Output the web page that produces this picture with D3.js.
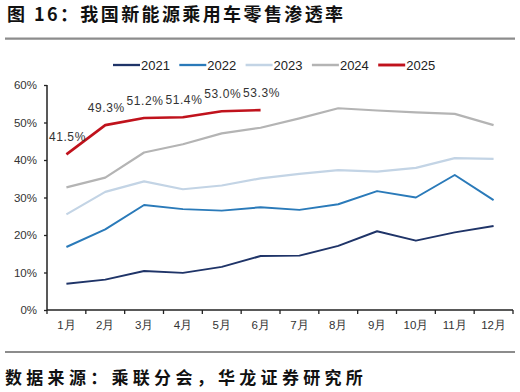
<!DOCTYPE html>
<html>
<head>
<meta charset="utf-8">
<script src="https://cdn.jsdelivr.net/npm/d3@7"></script>
<style>
  body { margin: 0; background: #fff; }
  svg { display: block; }
</style>
</head>
<body>
<div class="chart"></div>
<script>
const width = 520, height = 392;

// data
const months = ["1月","2月","3月","4月","5月","6月","7月","8月","9月","10月","11月","12月"];
const years = ["2021","2022","2023","2024","2025"];
const rate2021 = [7.0, 8.1, 10.4, 9.9, 11.5, 14.4, 14.5, 17.1, 21.0, 18.5, 20.7, 22.4];
const rate2022 = [16.8, 21.5, 28.0, 26.9, 26.5, 27.4, 26.7, 28.2, 31.7, 30.0, 36.0, 29.3];
const rate2023 = [25.5, 31.5, 34.3, 32.2, 33.2, 35.1, 36.3, 37.3, 36.9, 37.9, 40.5, 40.3];
const rate2024 = [32.7, 35.3, 42.0, 44.2, 47.1, 48.6, 51.1, 53.8, 53.2, 52.7, 52.3, 49.3];
const rate2025 = [41.5, 49.3, 51.2, 51.4, 53.0, 53.3];
const yTicks = [0, 10, 20, 30, 40, 50, 60];

const colors = ["#1f3468", "#2a7ab9", "#c3d4e5", "#b4b4b4", "#c0121c"];
const widths = [2, 2, 2.2, 2.2, 2.6];
const series = [rate2021, rate2022, rate2023, rate2024, rate2025];

const svg = d3.select(".chart")
    .append("svg")
    .attr("width", width)
    .attr("height", height);

const plotL = 47, plotR = 513, plotT = 85, plotB = 310;

const x = d3.scaleBand()
    .domain(months)
    .range([plotL, plotR]);

const y = d3.scaleLinear()
    .domain([0, 60])
    .range([plotB, plotT]);

// title + rules
svg.append("text")
    .attr("x", 7).attr("y", 21)
    .attr("font-family", "Noto Sans CJK SC")
    .attr("font-weight", "bold")
    .attr("font-size", 18)
    .attr("letter-spacing", 2.4)
    .attr("fill", "#111")
    .text("图 16：我国新能源乘用车零售渗透率");

svg.append("line")
    .attr("x1", 5).attr("x2", 515).attr("y1", 38.7).attr("y2", 38.7)
    .attr("stroke", "#8c8c8c").attr("stroke-width", 2.2);

svg.append("line")
    .attr("x1", 5).attr("x2", 515).attr("y1", 352).attr("y2", 352)
    .attr("stroke", "#8c8c8c").attr("stroke-width", 2.2);

svg.append("text")
    .attr("x", 5).attr("y", 384)
    .attr("font-family", "Noto Sans CJK SC")
    .attr("font-weight", "bold")
    .attr("font-size", 17)
    .attr("letter-spacing", 4.3)
    .attr("fill", "#111")
    .text("数据来源：乘联分会，华龙证券研究所");

// axes
const yAxis = svg.append("g")
    .attr("transform", `translate(${plotL},0)`)
    .call(d3.axisLeft(y).tickValues(yTicks).tickSize(3).tickPadding(7).tickFormat(d => d + "%"));

const xAxis = svg.append("g")
    .attr("transform", `translate(0,${plotB})`)
    .call(d3.axisBottom(x).tickSize(0).tickPadding(11));

// band boundary ticks
const bounds = months.map(m => x(m)).concat([plotR]);
xAxis.selectAll(".bound")
    .data(bounds)
    .join("line")
    .attr("class", "bound")
    .attr("x1", d => d).attr("x2", d => d)
    .attr("y1", 0).attr("y2", 4)
    .attr("stroke", "#222").attr("stroke-width", 1.3);

[yAxis, xAxis].forEach(g => {
    g.select(".domain").attr("stroke", "#222").attr("stroke-width", 1.5);
    g.selectAll(".tick line").attr("stroke", "#222").attr("stroke-width", 1.3);
    g.selectAll("text")
        .attr("font-family", "Liberation Sans, Arial, sans-serif")
        .attr("font-size", 11.5)
        .attr("fill", "#333");
});
xAxis.select(".domain").attr("d", `M${plotL},0H${plotR}`);
yAxis.select(".domain").attr("d", `M0,${plotT}V${plotB}`);

// lines
const line = d3.line()
    .x((d, i) => x(months[i]) + x.bandwidth() / 2)
    .y(d => y(d));

svg.selectAll(".series")
    .data(series)
    .join("path")
    .attr("class", "series")
    .attr("d", line)
    .attr("fill", "none")
    .attr("stroke", (d, i) => colors[i])
    .attr("stroke-width", (d, i) => widths[i])
    .attr("stroke-linejoin", "round");

// labels on 2025
svg.selectAll(".lbl")
    .data(rate2025)
    .join("text")
    .attr("class", "lbl")
    .attr("x", (d, i) => x(months[i]) + x.bandwidth() / 2 + 1)
    .attr("y", d => y(d) - 13)
    .attr("text-anchor", "middle")
    .attr("font-family", "Liberation Sans, Arial, sans-serif")
    .attr("font-size", 12)
    .attr("letter-spacing", 0.6)
    .attr("fill", "#333")
    .text(d => d.toFixed(1) + "%");

// legend
const legend = svg.selectAll(".leg")
    .data(years)
    .join("g")
    .attr("class", "leg")
    .attr("transform", (d, i) => `translate(${113 + i * 66.3},65)`);

legend.append("line")
    .attr("x1", 0).attr("x2", 27)
    .attr("stroke", (d, i) => colors[i])
    .attr("stroke-width", (d, i) => widths[i] + 0.3);

legend.append("text")
    .attr("x", 28).attr("y", 4.5)
    .attr("font-family", "Liberation Sans, Arial, sans-serif")
    .attr("font-size", 13)
    .attr("fill", "#222")
    .text(d => d);
</script>
</body>
</html>
